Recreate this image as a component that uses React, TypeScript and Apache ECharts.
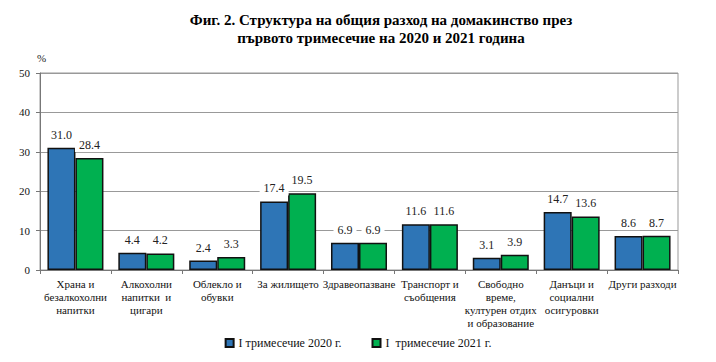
import React, { useEffect, useRef } from "react";
import * as echarts from "echarts";

const categories = [
  "Храна и\nбезалкохолни\nнапитки",
  "Алкохолни\nнапитки  и\nцигари",
  "Облекло и\nобувки",
  "За жилището",
  "Здравеопазване",
  "Транспорт и\nсъобщения",
  "Свободно\nвреме,\nкултурен отдих\nи образование",
  "Данъци и\nсоциални\nосигуровки",
  "Други разходи",
];
const series2020 = [31.0, 4.4, 2.4, 17.4, 6.9, 11.6, 3.1, 14.7, 8.6];
const series2021 = [28.4, 4.2, 3.3, 19.5, 6.9, 11.6, 3.9, 13.6, 8.7];
const seriesNames = ["I тримесечие 2020 г.", "I  тримесечие 2021 г."];
const titleLines = [
  "Фиг. 2. Структура на общия разход на домакинство през",
  "първото тримесечие на 2020 и 2021 година",
];

const FONT = "Liberation Serif";

export default function App() {
  const ref = useRef<HTMLDivElement>(null);
  useEffect(() => {
    if (!ref.current) return;
    const chart = echarts.init(ref.current, undefined, { renderer: "svg" });
    const label = {
      show: true,
      position: "top",
      distance: 6,
      formatter: (p: any) => Number(p.value).toFixed(1),
      fontFamily: FONT,
      fontSize: 12,
      color: "#222",
      backgroundColor: "#fff",
      padding: [1, 4],
    };
    chart.setOption({
      animation: false,
      textStyle: { fontFamily: FONT },
      title: {
        text: titleLines.join("\n"),
        left: 376,
        top: 6,
        textAlign: "center",
        textStyle: {
          fontFamily: FONT,
          fontSize: 15,
          fontWeight: "bold",
          color: "#000",
          lineHeight: 18,
        },
      },
      graphic: [
        {
          type: "text",
          left: 37,
          top: 52,
          style: { text: "%", fontFamily: FONT, fontSize: 11, fill: "#222" },
        },
      ],
      legend: {
        bottom: 8,
        left: "center",
        itemWidth: 8,
        itemHeight: 8,
        itemGap: 30,
        icon: "rect",
        textStyle: { fontFamily: FONT, fontSize: 12, color: "#111" },
        data: seriesNames,
      },
      grid: {
        left: 40,
        right: 38,
        top: 73,
        bottom: 92,
        show: true,
        borderColor: "#999",
        borderWidth: 1,
      },
      xAxis: {
        type: "category",
        data: categories,
        axisLine: { lineStyle: { color: "#777", width: 1 } },
        axisTick: { show: true, interval: 0, length: 4, lineStyle: { color: "#777" } },
        axisLabel: {
          interval: 0,
          fontFamily: FONT,
          fontSize: 11,
          color: "#111",
          lineHeight: 13,
          margin: 7,
        },
      },
      yAxis: {
        type: "value",
        min: 0,
        max: 50,
        interval: 10,
        axisLine: { show: true, lineStyle: { color: "#777" } },
        axisTick: { show: true, length: 4, lineStyle: { color: "#777" } },
        axisLabel: { fontFamily: FONT, fontSize: 11, color: "#111", margin: 10 },
        splitLine: { lineStyle: { color: "#999", width: 1 } },
      },
      series: [
        {
          name: seriesNames[0],
          type: "bar",
          data: series2020,
          barGap: "0%",
          barCategoryGap: "21%",
          itemStyle: { color: "#2E75B6", borderColor: "#111", borderWidth: 1.5 },
          label,
        },
        {
          name: seriesNames[1],
          type: "bar",
          data: series2021,
          itemStyle: { color: "#00B050", borderColor: "#111", borderWidth: 1.5 },
          label,
        },
      ],
    });
    return () => chart.dispose();
  }, []);
  return (
    <div
      ref={ref}
      style={{ position: "absolute", left: 0, top: 0, width: 716, height: 362 }}
    />
  );
}
